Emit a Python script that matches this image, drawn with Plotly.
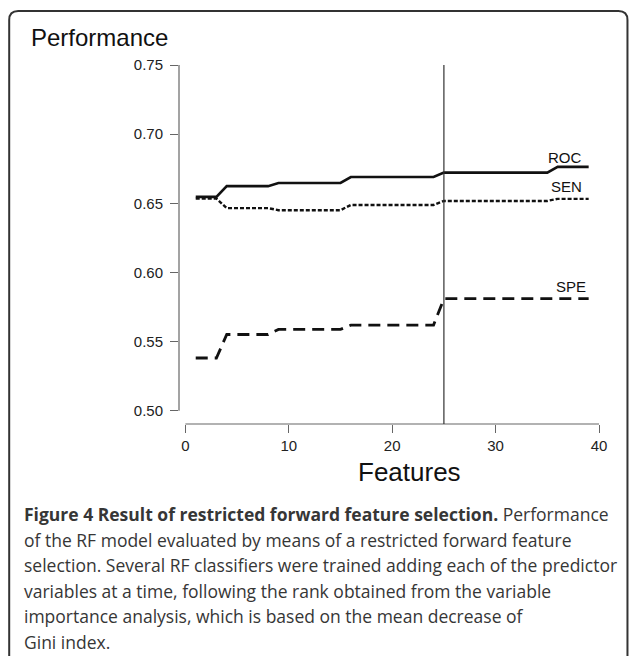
import plotly.graph_objects as go

# ---- data ----
features = list(range(1, 40))
roc_levels = [(1, 3, 0.6546), (4, 8, 0.6624), (9, 15, 0.6647), (16, 24, 0.6690), (25, 35, 0.6722), (36, 39, 0.6763)]
sen_levels = [(1, 3, 0.6534), (4, 8, 0.6465), (9, 15, 0.6450), (16, 24, 0.6488), (25, 35, 0.6517), (36, 39, 0.6532)]
spe_levels = [(1, 3, 0.5381), (4, 8, 0.5551), (9, 15, 0.5588), (16, 24, 0.5619), (25, 39, 0.5810)]

def expand(levels):
    out = []
    for a, b, v in levels:
        out += [v] * (b - a + 1)
    return out

roc = expand(roc_levels)
sen = expand(sen_levels)
spe = expand(spe_levels)

series_labels = ["ROC", "SEN", "SPE"]
label_x = [36.7, 36.9, 37.3]
label_y = [0.683, 0.662, 0.5897]

x_ticks = [0, 10, 20, 30, 40]
y_ticks = [0.50, 0.55, 0.60, 0.65, 0.70, 0.75]
selected_n = 25

caption_lines = [
    "<b>Figure 4 Result of restricted forward feature selection.</b> Performance",
    "of the RF model evaluated by means of a restricted forward feature",
    "selection. Several RF classifiers were trained adding each of the predictor",
    "variables at a time, following the rank obtained from the variable",
    "importance analysis, which is based on the mean decrease of",
    "Gini index.",
]

# ---- geometry (pixels) ----
W, H = 630, 656
L, R, T, B = 179, 599.5, 65, 424
pw, ph = R - L, B - T

def px(xp):
    return (xp - L) / pw

def py(yp):
    return (B - yp) / ph

fig = go.Figure()
fig.add_trace(go.Scatter(x=features, y=roc, mode="lines", line=dict(color="#111", width=2.6), hoverinfo="skip"))
fig.add_trace(go.Scatter(x=features, y=sen, mode="lines", line=dict(color="#111", width=2.4, dash="4px,2px"), hoverinfo="skip"))
fig.add_trace(go.Scatter(x=features, y=spe, mode="lines", line=dict(color="#111", width=2.8, dash="12px,7px"), hoverinfo="skip"))

axis_font = dict(family="Liberation Sans, Arial, sans-serif", size=15, color="#222")

fig.update_layout(
    width=W, height=H,
    margin=dict(l=L, r=W - R, t=T, b=H - B, pad=0),
    paper_bgcolor="white", plot_bgcolor="white",
    showlegend=False,
    xaxis=dict(range=[(L - 185.4) / 10.36, 40], tickvals=x_ticks, ticks="outside", ticklen=8,
               tickcolor="#666", tickwidth=1.2, showline=False, showgrid=False, zeroline=False,
               tickfont=axis_font),
    yaxis=dict(range=[0.5 - 13.3 / 1382, 0.75], tickvals=y_ticks, tickformat=".2f", ticks="outside",
               ticklen=8, tickcolor="#666", tickwidth=1.2, showline=False, showgrid=False,
               zeroline=False, tickfont=axis_font, ticklabelstandoff=4),
)

# axis lines (R style, span the tick range)
fig.add_shape(type="line", xref="paper", yref="y", x0=0, x1=0, y0=0.50, y1=0.75,
              line=dict(color="#666", width=1.2))
fig.add_shape(type="line", xref="x", yref="paper", x0=0, x1=40, y0=0, y1=0,
              line=dict(color="#666", width=1.2))
# selection marker
fig.add_shape(type="line", xref="x", yref="y", x0=selected_n, x1=selected_n, y0=0.75, y1=0.5 - 13.3 / 1382,
              line=dict(color="#333", width=1.2))

for t, x, y in zip(series_labels, label_x, label_y):
    fig.add_annotation(x=x, y=y, xref="x", yref="y", text=t, showarrow=False,
                       font=dict(family="Liberation Sans, Arial, sans-serif", size=15, color="#111"))

fig.add_annotation(x=px(29), y=py(37), xref="paper", yref="paper", xanchor="left", yanchor="middle",
                   text="Performance", showarrow=False,
                   font=dict(family="Liberation Sans, Arial", size=24, color="#111"))
fig.add_annotation(x=px(410), y=py(472), xref="paper", yref="paper", xanchor="center", yanchor="middle",
                   text="Features", showarrow=False,
                   font=dict(family="Liberation Sans, Arial, sans-serif", size=26, color="#111"))

for i, line in enumerate(caption_lines):
    fig.add_annotation(x=px(22), y=py(514 + 25.5 * i), xref="paper", yref="paper", xanchor="left",
                       yanchor="middle", text=line, showarrow=False,
                       font=dict(family="Open Sans, sans-serif", size=17.5, color="#363636"))

# rounded frame
lx, rx, ty, by, r = 9, 628, 11, 660, 9
path = (f"M {px(lx)},{py(by)} L {px(lx)},{py(ty + r)} Q {px(lx)},{py(ty)} {px(lx + r)},{py(ty)} "
        f"L {px(rx - r)},{py(ty)} Q {px(rx)},{py(ty)} {px(rx)},{py(ty + r)} L {px(rx)},{py(by)}")
fig.add_shape(type="path", xref="paper", yref="paper", path=path, line=dict(color="#333", width=2))

fig.write_html("out.html")
